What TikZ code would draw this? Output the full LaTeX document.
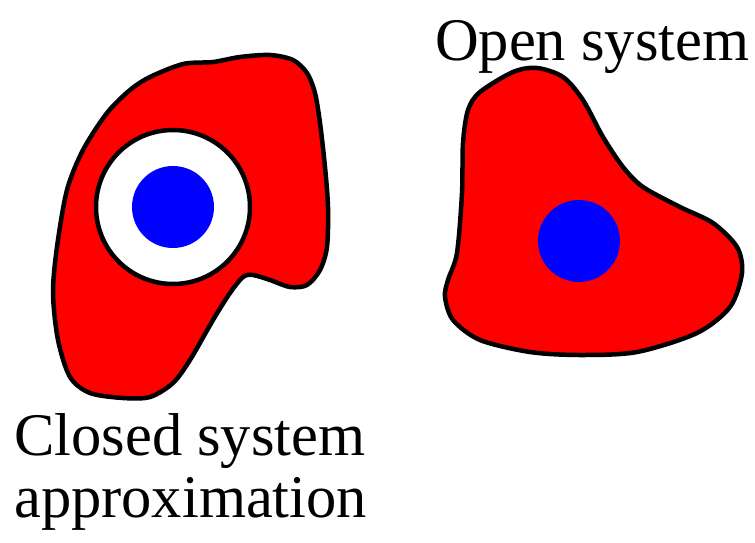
\documentclass[tikz,border=0pt]{standalone}
\usepackage{fontspec}
\setmainfont{Liberation Serif}
\begin{document}
\begin{tikzpicture}[x=1pt,y=-1pt,
  cellbody/.style={draw=black,fill=red,line width=4.5pt,line join=round},
  shell/.style={draw=black,fill=white,line width=4.5pt},
  core/.style={fill=blue},
  caption/.style={anchor=base west,inner sep=0pt,font=\rmfamily\fontsize{60.5}{62}\selectfont}]
\useasboundingbox (0,0) rectangle (755,543);

% closed system: cell with a shielding shell around its core
\draw[cellbody] plot[smooth cycle,tension=0.5] coordinates {
  (150,77) (183,64) (213,62) (240,57) (270,55) (293,60) (307,73)
  (315,93) (320,123) (325,167) (328,207) (327,247) (320,270)
  (307,285) (290,287) (270,280) (253,275) (243,277) (230,293)
  (213,320) (190,360) (173,383) (150,397) (123,398) (90,393)
  (70,377) (58,340) (53,293) (57,247) (67,190) (83,150) (107,113)
  (130,90)};
\draw[shell] (173,207) circle[radius=77];
\fill[core] (173,207) circle[radius=41];

% open system: cell with an exposed core
\draw[cellbody] plot[smooth cycle,tension=0.5] coordinates {
  (537,68) (563,77) (583,100) (603,137) (623,167) (643,187)
  (680,207) (713,223) (737,247) (742,273) (730,307) (697,333)
  (637,352) (580,355) (530,352) (480,340) (453,320) (445,297)
  (448,280) (457,253) (462,193) (463,143) (468,110) (480,92)
  (513,72)};
\fill[core] (579,241) circle[radius=41];

\node[caption] (opencap) at (435,61) {Open system};
\node[caption] (closedcap1) at (14,455) {Closed system};
\node[caption] (closedcap2) at (14,517) {approximation};
\end{tikzpicture}
\end{document}
